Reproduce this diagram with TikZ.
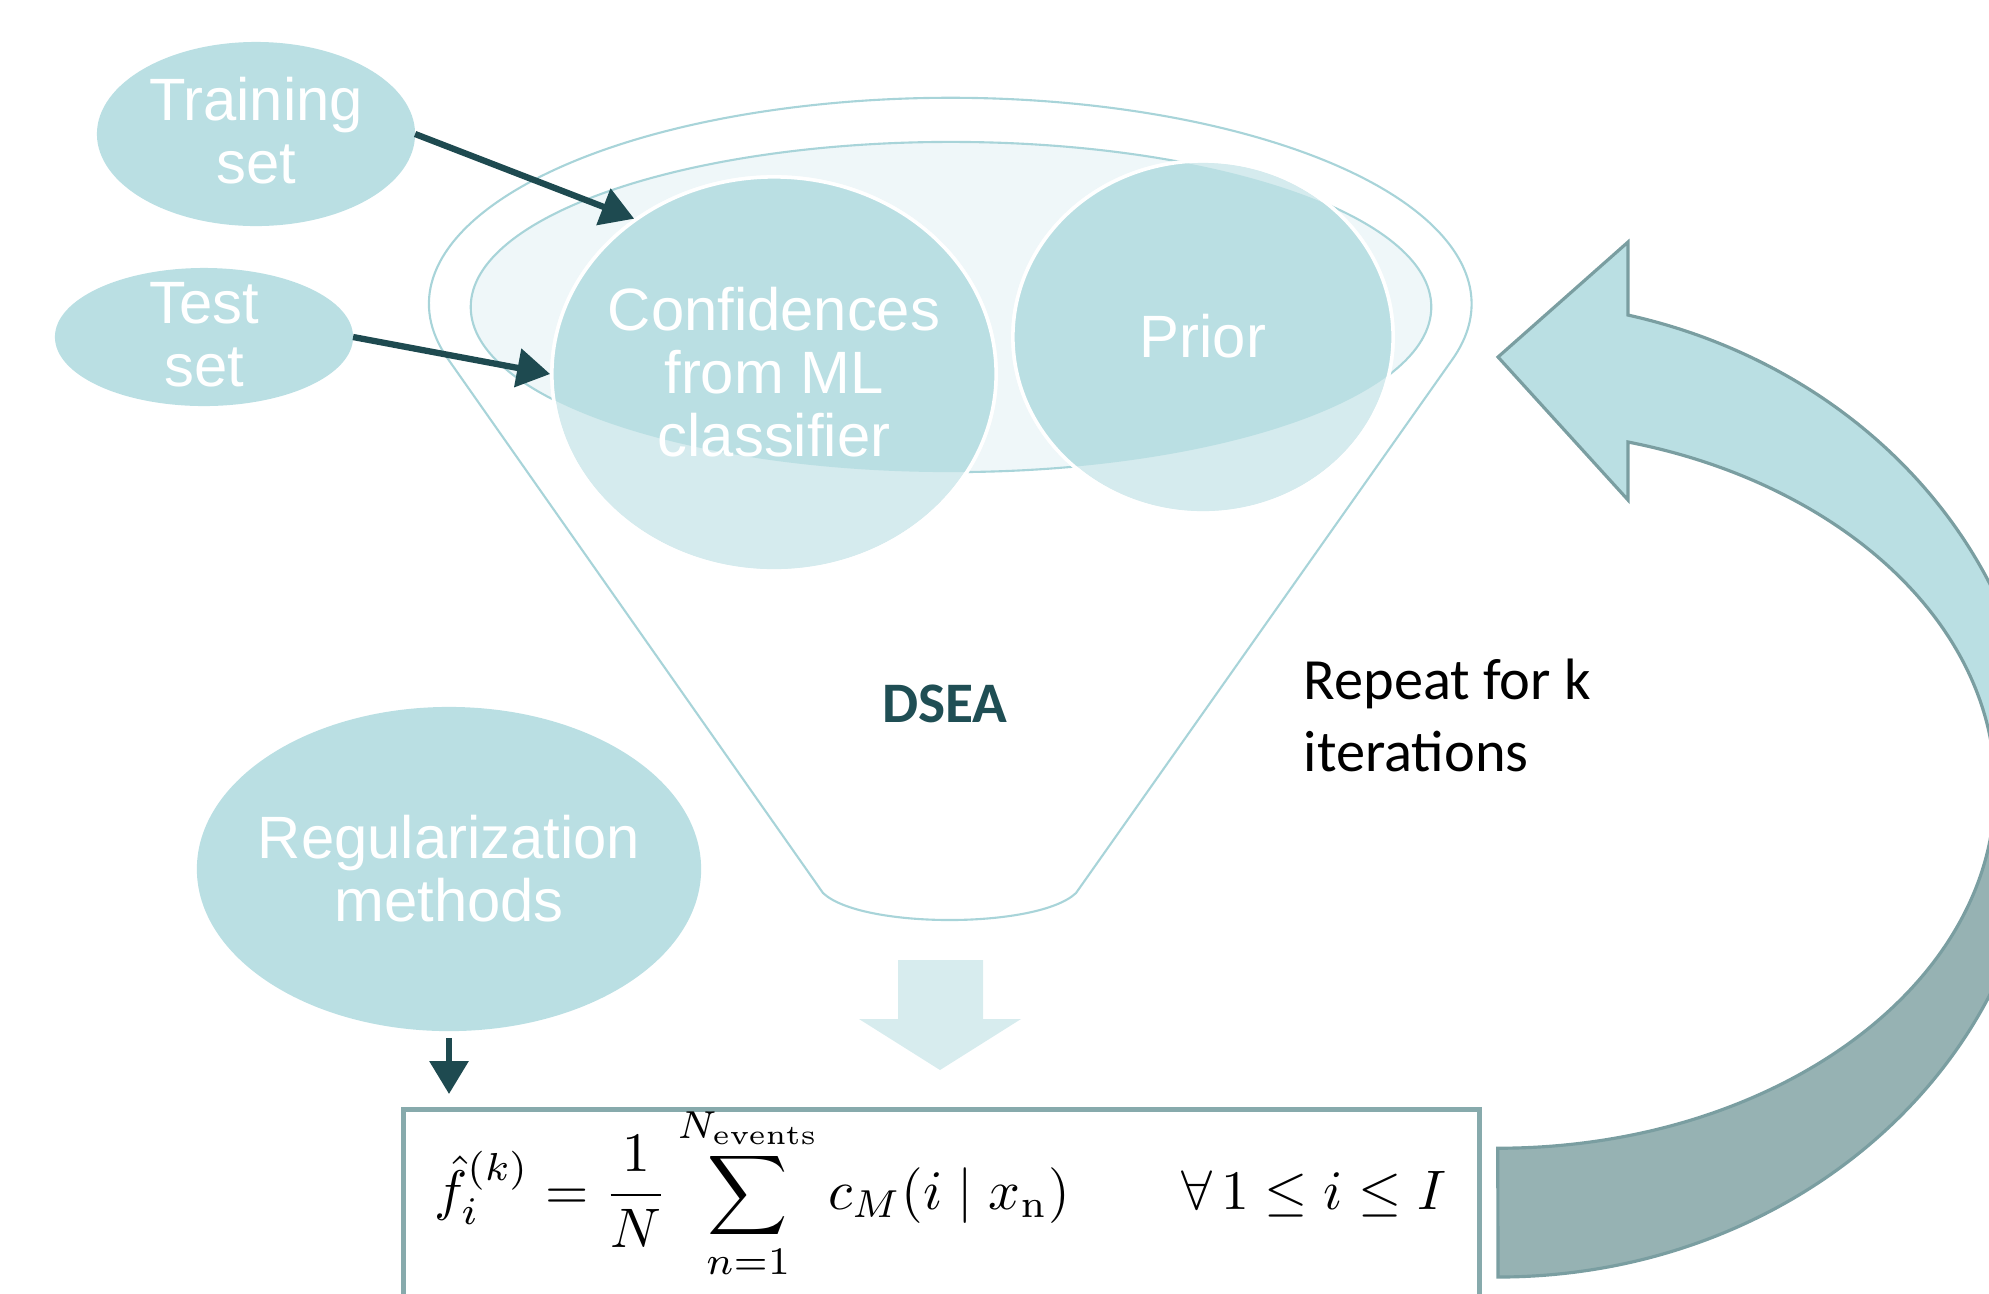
\documentclass[tikz,border=0pt]{standalone}
\usepackage[no-math]{fontspec}
\setmainfont{Liberation Sans}
\newfontfamily\calibri{Carlito}
\usepackage{amsmath}
\usepackage{graphicx}
\usetikzlibrary{arrows.meta,calc,shapes.geometric}
\definecolor{tealA}{RGB}{186,223,227}
\definecolor{tealB}{RGB}{213,235,238}
\definecolor{tealC}{RGB}{239,247,249}
\definecolor{tline}{RGB}{168,212,217}
\definecolor{darkarrow}{RGB}{30,74,80}
\definecolor{dseacol}{RGB}{31,78,84}
\definecolor{banddark}{RGB}{150,178,179}
\definecolor{bandedge}{RGB}{122,158,161}
\definecolor{boxedge}{RGB}{135,170,172}
\definecolor{downcol}{RGB}{215,236,238}
\begin{document}
\begin{tikzpicture}[x=0.01cm,y=-0.01cm,
  blob/.style={ellipse, fill=tealA, draw=none, inner sep=0pt, outer sep=0pt},
  wtext/.style={text=white, font=\fontsize{17}{17.9}\selectfont, align=center, inner sep=0pt},
  darr/.style={draw=darkarrow, line width=0.063cm, -{Triangle[length=0.33cm,width=0.38cm]}},
]
\useasboundingbox (0,0) rectangle (1989,1293);
\clip (0,0) rectangle (1989,1293);

% funnel outer outline
\filldraw[fill=white, draw=tline, line width=0.6pt]
  (448,359) arc[start angle=195.5, end angle=-15.5, x radius=5.21cm, y radius=2.06cm]
  -- (1076,893) .. controls (1038,929) and (861,929) .. (823,893) -- cycle;
% funnel inner ellipse
\filldraw[fill=tealC, draw=tline, line width=0.6pt] (951,307) ellipse [x radius=4.80cm, y radius=1.65cm];

% circles (light part outside ellipse)
\node[ellipse, fill=tealB, draw=white, line width=1pt, inner sep=0pt, minimum width=4.44cm, minimum height=3.94cm] (conf) at (774,374) {};
\node[ellipse, fill=tealB, draw=white, line width=1pt, inner sep=0pt, minimum width=3.80cm, minimum height=3.52cm] (prior) at (1203,337) {};
\begin{scope}
  \clip (951,307) ellipse [x radius=4.80cm, y radius=1.65cm];
  \fill[tealA] (774,374) ellipse [x radius=2.22cm, y radius=1.97cm];
  \fill[tealA] (1203,337) ellipse [x radius=1.90cm, y radius=1.76cm];
\end{scope}
\draw[white, line width=1pt] (774,374) ellipse [x radius=2.22cm, y radius=1.97cm];
\draw[white, line width=1pt] (1203,337) ellipse [x radius=1.90cm, y radius=1.76cm];
\node[wtext] (conft) at (774,372) {Confidences\\from ML\\classifier};
\node[wtext] (priort) at (1203,336) {Prior};

% input ellipses
\node[blob, minimum width=3.18cm, minimum height=1.84cm] (tr) at (256,134) {};
\node[wtext] (trt) at (256,131) {Training\\set};
\node[blob, minimum width=2.98cm, minimum height=1.38cm] (te) at (204,337) {};
\node[wtext] (tet) at (204,335) {Test\\set};
\node[blob, minimum width=5.04cm, minimum height=3.24cm] (reg) at (449,869) {};
\node[wtext] (regt) at (449,869) {Regularization\\methods};

% labels
\node[font=\calibri\bfseries\fontsize{16.3}{18}\selectfont, text=dseacol, inner sep=0pt] (dsea) at (945,704) {DSEA};
\node[font=\calibri\fontsize{16.6}{20}\selectfont, anchor=base west, inner sep=0pt] (rep1) at (1303,699) {Repeat for k};
\node[font=\calibri\fontsize{16.6}{20}\selectfont, anchor=base west, inner sep=0pt] (rep2) at (1303,771) {iterations};

% block down arrow
\fill[downcol] (898,960) -- (983,960) -- (983,1019) -- (1021,1019) -- (940,1070) -- (859,1019) -- (898,1019) -- cycle;

% formula box
\node[draw=boxedge, line width=1.4pt, fill=white, anchor=north west, minimum width=10.75cm, minimum height=2.2cm, inner sep=0pt] (box) at (401,1107) {};
\node[anchor=base, inner sep=0pt] (fml) at (940,1209)
  {\resizebox{10.11cm}{!}{$\displaystyle {\hat{f}_i}^{(k)} = \frac{1}{N}\sum_{n=1}^{N_{\mathrm{events}}} c_M(i \mid x_{\mathrm{n}}) \qquad \forall\, 1 \le i \le I$}};

% dark arrows
\draw[darr] (tr.east) -- (conf.132);
\draw[darr] (te.east) -- (conf.west);
\draw[darr, shorten <=0.07cm, shorten >=0.13cm] (reg.south) -- (reg.south |- box.north);

% curved return arrow
\filldraw[fill=tealA, draw=bandedge, line width=0.9pt, line join=miter]
  (1628,242) -- (1498,357) -- (1628,500) -- (1628,442)
  arc[start angle=74.83, end angle=0, x radius=4.97cm, y radius=3.59cm]
  -- (2040,789)
  arc[start angle=0, end angle=76.1, x radius=5.42cm, y radius=4.88cm]
  -- cycle;
\filldraw[fill=banddark, draw=bandedge, line width=0.9pt]
  (1498,1277) arc[start angle=-90, end angle=0, x radius=5.42cm, y radius=4.88cm]
  -- (1995,789)
  arc[start angle=0, end angle=-90, x radius=4.97cm, y radius=3.59cm]
  -- cycle;
\end{tikzpicture}
\end{document}
